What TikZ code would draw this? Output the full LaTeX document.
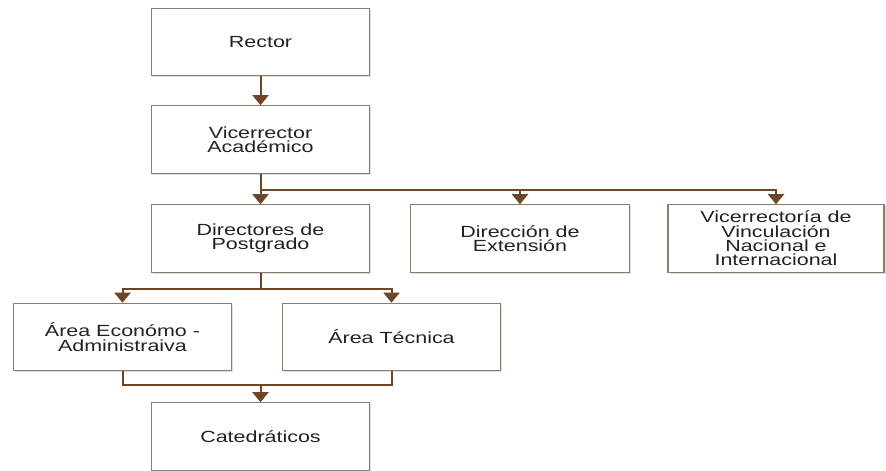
\documentclass[tikz,border=0pt]{standalone}
\usepackage{fontspec}
\usepackage{xcolor}
\usepackage{tikz}
\usetikzlibrary{calc}
\usetikzlibrary{arrows.meta}
\usetikzlibrary{shadows}
\newfontfamily\boxfont[FakeStretch=1.33]{Liberation Sans}
\definecolor{boxline}{HTML}{8C7B70}
\definecolor{linkbrown}{HTML}{6E4527}
\definecolor{boxtext}{HTML}{222222}
\tikzset{
	unit/.style={rectangle, draw=boxline, line width=0.9pt, fill=white, minimum width=164pt, minimum height=50.5pt, inner sep=0pt, align=center, text=boxtext, font=\boxfont\fontsize{12.1}{10.7}\selectfont, drop shadow={shadow xshift=1.2pt, shadow yshift=-1.2pt, opacity=0.25}},
	wire/.style={draw=linkbrown, line width=1.5pt},
	link/.style={wire, -{Triangle[width=12pt, length=7.5pt]}}
}

\begin{document}
\begin{tikzpicture}[x=0.75pt, y=-0.75pt]
	\useasboundingbox (0,0) rectangle (886,471);
	%top
	\node at (260.5,42) (rector) [unit] {Rector};
	\node at (260.5,139.5) (vice) [unit] {Vicerrector\\Académico};
	%second level
	\node at (260.5,238.5) (dirpost) [unit] {Directores de\\Postgrado};
	\node at (520,238.5) (dirext) [unit] {Dirección de\\Extensión};
	\node at (776,238.5) (vicevin) [unit, minimum width=162pt] {Vicerrectoría de\\Vinculación\\Nacional e\\Internacional};
	%areas
	\node at (122.5,337) (areaeco) [unit] {Área Económo -\\Administraiva};
	\node at (391.5,337) (areatec) [unit] {Área Técnica};
	%bottom
	\node at (260.5,436.5) (cated) [unit] {Catedráticos};

	%junctions
	\coordinate (j1) at ($(vice.south)+(0,16)$);
	\coordinate (j2) at ($(dirpost.south)+(0,16)$);
	\coordinate (j3) at ($(cated.north)+(0,-17)$);

	\draw [link] (rector.south) -- (vice.north);
	\draw [link] (vice.south) -- (dirpost.north);
	\draw [link] (j1) -| (dirext.north);
	\draw [link] (j1) -| (vicevin.north);
	\draw [wire] (dirpost.south) -- (j2);
	\draw [link] (j2) -| (areaeco.north);
	\draw [link] (j2) -| (areatec.north);
	\draw [wire] (areaeco.south) |- (j3);
	\draw [wire] (areatec.south) |- (j3);
	\draw [link] (j3) -- (cated.north);
\end{tikzpicture}
\end{document}
